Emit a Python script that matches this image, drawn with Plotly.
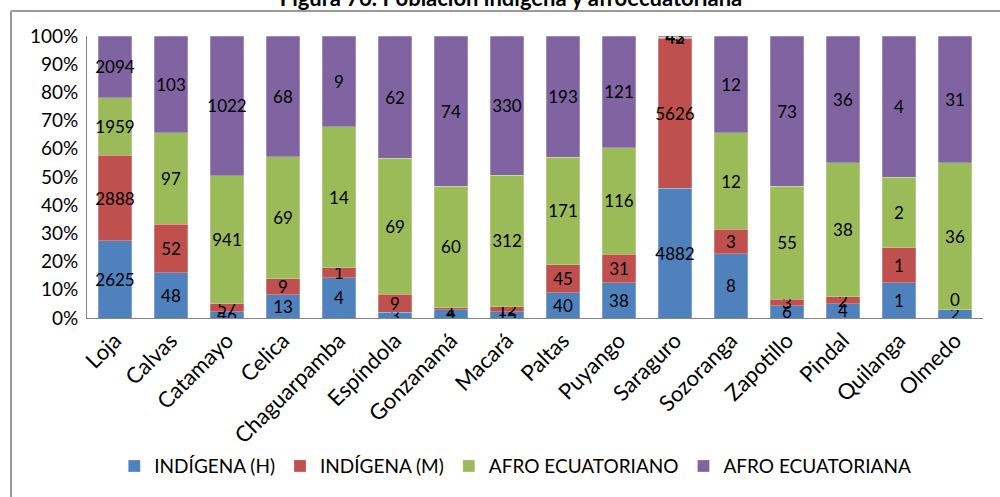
import plotly.graph_objects as go

categories = ["Loja", "Calvas", "Catamayo", "Celica", "Chaguarpamba", "Espíndola",
              "Gonzanamá", "Macará", "Paltas", "Puyango", "Saraguro", "Sozoranga",
              "Zapotillo", "Pindal", "Quilanga", "Olmedo"]
indigena_h = [2625, 48, 46, 13, 4, 3, 4, 15, 40, 38, 4882, 8, 6, 4, 1, 2]
indigena_m = [2888, 52, 57, 9, 1, 9, 1, 12, 45, 31, 5626, 3, 3, 2, 1, 0]
afro_o = [1959, 97, 941, 69, 14, 69, 60, 312, 171, 116, 42, 12, 55, 38, 2, 36]
afro_a = [2094, 103, 1022, 68, 9, 62, 74, 330, 193, 121, 43, 12, 73, 36, 4, 31]

series = [
    ("INDÍGENA (H)", indigena_h, "#4F81BD"),
    ("INDÍGENA (M)", indigena_m, "#C0504D"),
    ("AFRO ECUATORIANO", afro_o, "#9BBB59"),
    ("AFRO ECUATORIANA", afro_a, "#8064A2"),
]

FONT = "Lato"
fig = go.Figure()
for name, vals, col in series:
    fig.add_trace(go.Bar(
        x=categories, y=vals, name=name,
        marker=dict(color=col, line=dict(color="rgba(255,255,255,0.5)", width=0.5)),
        text=vals, texttemplate="%{text}", textposition="inside",
        insidetextanchor="middle", textangle=0, constraintext="none",
        textfont=dict(color="black", size=17, family=FONT),
    ))

# labels for zero-valued segments (plotly draws no text on zero-height bars)
totals = [sum(s[1][i] for s in series) for i in range(len(categories))]
for si, (name, vals, col) in enumerate(series):
    for i, v in enumerate(vals):
        if v == 0:
            cum = sum(series[k][1][i] for k in range(si)) / totals[i] * 100
            fig.add_annotation(x=categories[i], y=cum, text=str(v), showarrow=False,
                               font=dict(size=17, family=FONT, color="black"),
                               yanchor="bottom", yshift=-2)

fig.update_layout(
    barmode="stack", barnorm="percent", bargap=0.41,
    width=1000, height=497,
    margin=dict(l=87, r=17, t=36, b=179, autoexpand=False),
    paper_bgcolor="white", plot_bgcolor="white",
    font=dict(family=FONT, size=19, color="black"),
    uniformtext=dict(mode="show", minsize=17),
    title=dict(text="<b>Figura 76. Población indígena y afroecuatoriana</b>",
               x=(511 - 87) / 896, xanchor="center", xref="paper", y=0.987, yanchor="bottom",
               yref="container", font=dict(size=22, family=FONT), automargin=False),
    legend=dict(orientation="h", x=0.478, xanchor="center", y=-0.525, yanchor="middle",
                font=dict(size=19, family=FONT), traceorder="normal"),
    showlegend=True,
)
fig.update_yaxes(range=[0, 100], dtick=10, ticksuffix="%", showgrid=False,
                 showline=True, linecolor="#868686", linewidth=1, ticks="",
                 tickfont=dict(size=19, family=FONT), zeroline=False,
                 automargin=False, ticklabelstandoff=4)
fig.update_xaxes(tickangle=-45, showline=True, linecolor="#868686", linewidth=1,
                 ticks="", tickfont=dict(size=22, family=FONT), automargin=False)

# outer chart border (top and left lines)
fig.add_shape(type="line", xref="paper", yref="paper",
              x0=(11 - 87) / 896, x1=(1000 - 87) / 896,
              y0=(318 - 11) / 282, y1=(318 - 11) / 282,
              line=dict(color="#999999", width=2))
fig.add_shape(type="line", xref="paper", yref="paper",
              x0=(11 - 87) / 896, x1=(11 - 87) / 896,
              y0=(318 - 11) / 282, y1=(318 - 500) / 282,
              line=dict(color="#999999", width=2))

fig.write_html("out.html", config={"displayModeBar": False},
               post_script="document.body.style.margin='0';document.body.style.padding='0';")
